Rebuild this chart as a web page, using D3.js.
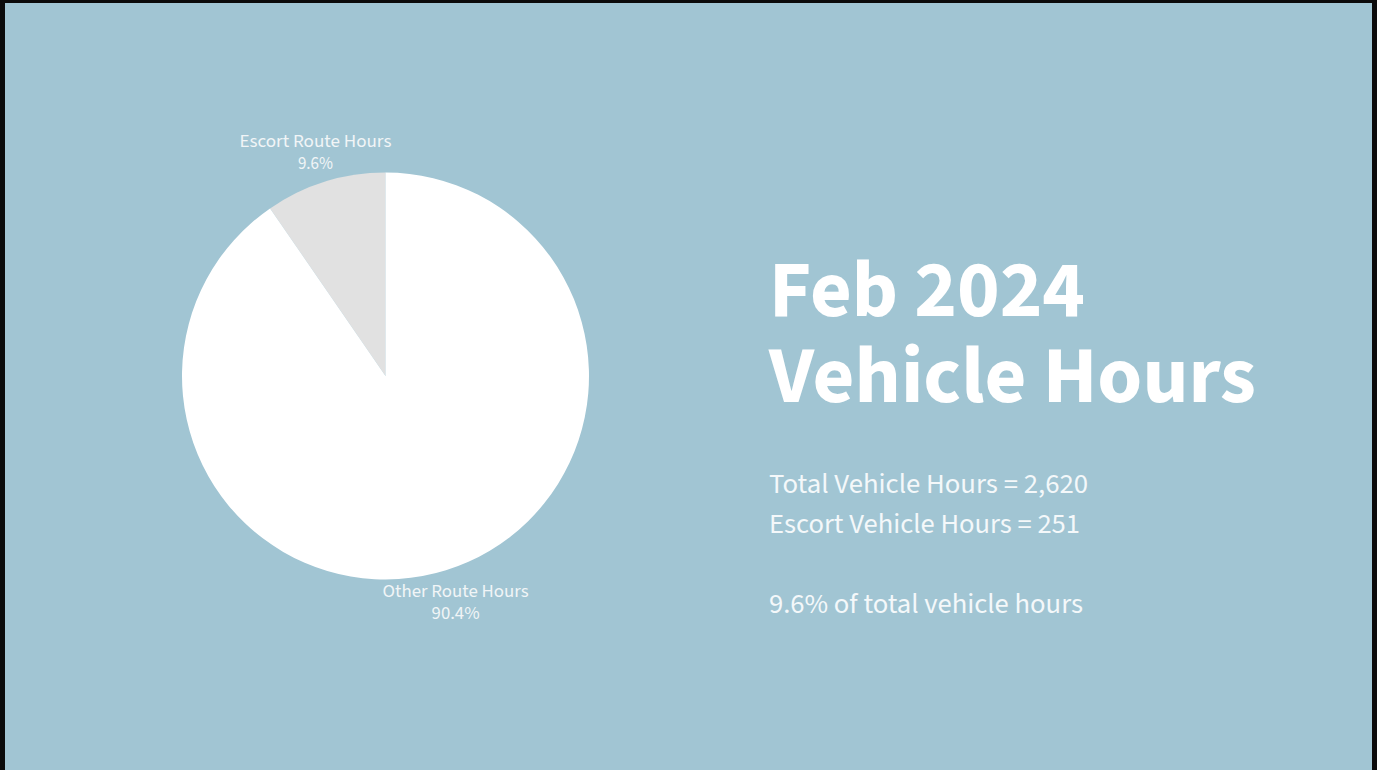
<!DOCTYPE html>
<html>
<head>
<meta charset="utf-8">
<script src="https://cdn.jsdelivr.net/npm/d3@7"></script>
<style>
  html, body { margin: 0; padding: 0; background: #000; }
  svg { display: block; }
</style>
</head>
<body>
<svg id="chart" width="1377" height="770"></svg>
<script>
// ---- data ----
const categories = ["Escort Route Hours", "Other Route Hours"];
const shares = [9.6, 90.4];
const sliceColors = ["#e1e1e1", "#ffffff"];
const titleLines = ["Feb 2024", "Vehicle Hours"];
const totalHours = 2620;
const escortHours = 251;

const W = 1377, H = 770;
const svg = d3.select("#chart");
const FONT = "'Source Sans Pro', 'Source Sans 3', Lato, 'Noto Sans', sans-serif";

// frame
svg.append("rect").attr("x", 0).attr("y", 0).attr("width", W).attr("height", H).attr("fill", "#0b0b0b");
svg.append("rect").attr("x", 5).attr("y", 3).attr("width", 1367).attr("height", H - 3).attr("fill", "#a1c5d3");

// pie
const cx = 385.5, cy = 376, r = 203.5;
const pie = d3.pie().sort(null).value(d => d).startAngle(-2 * Math.PI * shares[0] / 100).endAngle(2 * Math.PI * (1 - shares[0] / 100));
const arcs = pie(shares);
const arc = d3.arc().innerRadius(0).outerRadius(r);
const g = svg.append("g").attr("transform", `translate(${cx},${cy})`);
g.selectAll("path").data(arcs).join("path")
  .attr("d", arc)
  .attr("fill", (d, i) => sliceColors[i]);

// labels
const labelArc = d3.arc().innerRadius(236).outerRadius(236);
const fmtPct = d3.format(".1f");
const labelWidths = [152, 146];
const pctWidths = [35, 48];
arcs.forEach((a, i) => {
  const [lx, ly] = labelArc.centroid(a);
  const t = g.append("text")
    .attr("text-anchor", "middle")
    .attr("font-family", FONT)
    .attr("font-size", 18)
    .attr("fill", "#f1f5f7");
  t.append("tspan").attr("x", lx).attr("y", ly - 4).text(categories[i])
    .attr("textLength", labelWidths[i]).attr("lengthAdjust", "spacingAndGlyphs");
  t.append("tspan").attr("x", lx).attr("y", ly + 18).text(fmtPct(shares[i]) + "%")
    .attr("textLength", pctWidths[i]).attr("lengthAdjust", "spacingAndGlyphs");
});

// title
const titleWidths = [316, 487];
const titleBaselines = [316, 402];
titleLines.forEach((s, i) => {
  svg.append("text")
    .attr("x", 769).attr("y", titleBaselines[i])
    .attr("font-family", FONT).attr("font-weight", 700).attr("font-size", 80)
    .attr("fill", "#ffffff")
    .attr("textLength", titleWidths[i]).attr("lengthAdjust", "spacingAndGlyphs")
    .text(s);
});

// body text
const fmtN = d3.format(",");
const bodyLines = [
  `Total Vehicle Hours = ${fmtN(totalHours)}`,
  `Escort Vehicle Hours = ${fmtN(escortHours)}`,
  `${fmtPct(escortHours / totalHours * 100)}% of total vehicle hours`
];
const bodyWidths = [319, 311, 314];
const bodyBaselines = [493, 533, 613];
bodyLines.forEach((s, i) => {
  svg.append("text")
    .attr("x", 769).attr("y", bodyBaselines[i])
    .attr("font-family", FONT).attr("font-size", 28)
    .attr("fill", "#f4f8fa")
    .attr("textLength", bodyWidths[i]).attr("lengthAdjust", "spacingAndGlyphs")
    .text(s);
});
</script>
</body>
</html>
